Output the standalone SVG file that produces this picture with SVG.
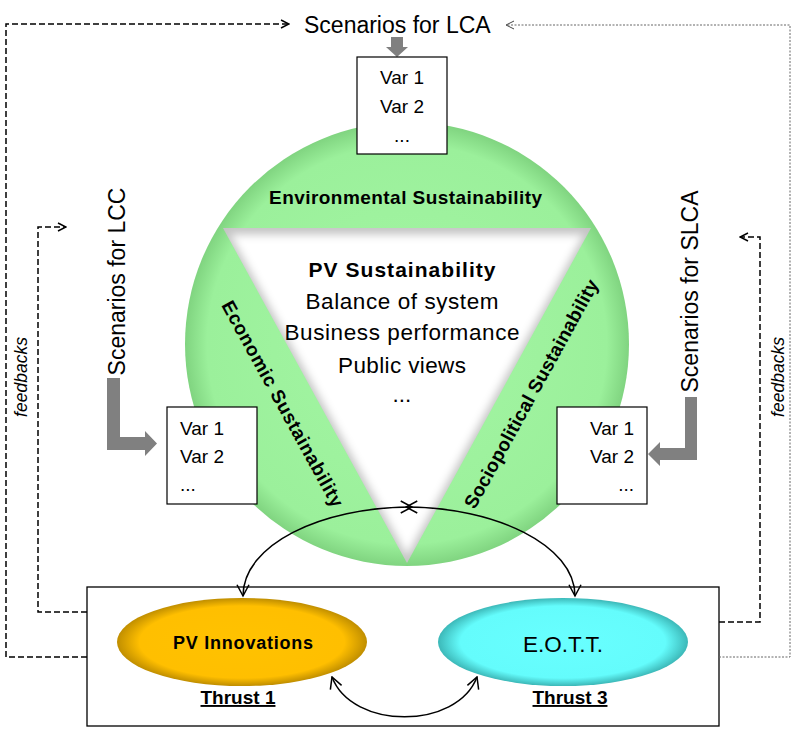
<svg xmlns="http://www.w3.org/2000/svg" width="794" height="729" viewBox="0 0 794 729">
<style>
text{font-family:"Liberation Sans",Arial,sans-serif;fill:#000}
.scen{font-size:23px}
.var{font-size:19px}
.bold{font-weight:bold}
.fb{font-size:17.5px;font-style:italic}
.box{fill:#fff;stroke:#000;stroke-width:1.2}
.gray{fill:#808080}
.dash{fill:none;stroke:#000;stroke-width:1.5;stroke-dasharray:6,3}
.dot{fill:none;stroke:#666;stroke-width:1;stroke-dasharray:2,1.5}
.curve{fill:none;stroke:#000;stroke-width:1.5}
</style>
<defs>
<marker id="chev" viewBox="0 0 10 10" refX="9" refY="5" markerWidth="10" markerHeight="10" markerUnits="userSpaceOnUse" orient="auto-start-reverse">
<path d="M1,1 L9,5 L1,9" fill="none" stroke="#000" stroke-width="1.5"/>
</marker>
<marker id="chevBig" viewBox="0 0 10 10" refX="9" refY="5" markerWidth="15" markerHeight="15" markerUnits="userSpaceOnUse" orient="auto-start-reverse">
<path d="M1.5,1 L9,5 L1.5,9" fill="none" stroke="#000" stroke-width="1"/>
</marker>
<marker id="chevThin" viewBox="0 0 10 10" refX="9" refY="5" markerWidth="10" markerHeight="10" markerUnits="userSpaceOnUse" orient="auto-start-reverse">
<path d="M1,1 L9,5 L1,9" fill="none" stroke="#444" stroke-width="1"/>
</marker>
<radialGradient id="green" cx="0.5" cy="0.5" r="0.5">
<stop offset="0" stop-color="#a4f6a4"/>
<stop offset="0.9" stop-color="#9bf09b"/>
<stop offset="1" stop-color="#80d480"/>
</radialGradient>
<radialGradient id="gold" cx="0.5" cy="0.5" r="0.5">
<stop offset="0" stop-color="#ffc200"/>
<stop offset="0.82" stop-color="#ffbf00"/>
<stop offset="1" stop-color="#c08e00"/>
</radialGradient>
<radialGradient id="cyan" cx="0.5" cy="0.5" r="0.5">
<stop offset="0" stop-color="#68ffff"/>
<stop offset="0.82" stop-color="#64fcfc"/>
<stop offset="1" stop-color="#3cb8b8"/>
</radialGradient>
<clipPath id="triClip"><polygon points="223,228 591,228 407,563"/></clipPath>
<filter id="soft" x="-20%" y="-20%" width="140%" height="140%"><feGaussianBlur stdDeviation="4"/></filter>
</defs>

<g id="sustainability-circle">
<circle cx="407" cy="344" r="222" fill="url(#green)"/>
<polygon points="223,228 591,228 407,563" fill="#c4c4c4"/>
<g clip-path="url(#triClip)">
<polygon points="230,234.5 584,234.5 407,556" fill="#fff" filter="url(#soft)"/>
</g>
<text class="bold" x="405.5" y="204" font-size="19" text-anchor="middle" textLength="273">Environmental Sustainability</text>
<text class="bold" font-size="19" text-anchor="middle" textLength="232" transform="translate(277,407) rotate(61.2)">Economic Sustainability</text>
<text class="bold" font-size="19" text-anchor="middle" textLength="258" transform="translate(537,397) rotate(-61.2)">Sociopolitical Sustainability</text>
</g>

<g id="pv-sustainability">
<text class="bold" x="402" y="277" font-size="21" text-anchor="middle" textLength="187">PV Sustainability</text>
<text x="402" y="309" font-size="22.5" text-anchor="middle" textLength="193">Balance of system</text>
<text x="402" y="340" font-size="22.5" text-anchor="middle" textLength="235">Business performance</text>
<text x="402" y="373" font-size="22.5" text-anchor="middle" textLength="128">Public views</text>
<text x="402" y="402" font-size="22.5" text-anchor="middle">...</text>
</g>

<g id="scenarios-lca">
<text class="scen" x="304" y="33">Scenarios for LCA</text>
<polygon class="gray" points="391,37 403,37 403,47 408,47 397,57 386,47 391,47"/>
<rect class="box" x="357" y="57" width="90" height="97"/>
<text class="var" x="402" y="84" text-anchor="middle">Var 1</text>
<text class="var" x="402" y="113" text-anchor="middle">Var 2</text>
<text class="var" x="402" y="142" text-anchor="middle">...</text>
</g>

<g id="scenarios-lcc">
<text class="scen" text-anchor="middle" transform="translate(125,281.5) rotate(-90)">Scenarios for LCC</text>
<polygon class="gray" points="107,378 120,378 120,437 145,437 145,431 157,443.5 145,456 145,450 107,450"/>
<rect class="box" x="167" y="407" width="90" height="97"/>
<text class="var" x="180" y="435">Var 1</text>
<text class="var" x="180" y="463">Var 2</text>
<text class="var" x="180" y="491">...</text>
</g>

<g id="scenarios-slca">
<text class="scen" text-anchor="middle" transform="translate(698,291.5) rotate(-90)">Scenarios for SLCA</text>
<polygon class="gray" points="685,397 697,397 697,460 660,460 660,466 648,454 660,442 660,448 685,448"/>
<rect class="box" x="557" y="407" width="90" height="97"/>
<text class="var" x="634" y="435" text-anchor="end">Var 1</text>
<text class="var" x="634" y="463" text-anchor="end">Var 2</text>
<text class="var" x="634" y="491" text-anchor="end">...</text>
</g>

<g id="thrust-box">
<rect x="87" y="587" width="632" height="139" fill="#fff" stroke="#000" stroke-width="1.3"/>
</g>

<g id="pv-innovations">
<ellipse cx="242" cy="642" rx="125" ry="44" fill="url(#gold)"/>
<text class="bold" x="243" y="649" font-size="18" text-anchor="middle" textLength="140">PV Innovations</text>
<text class="bold" x="238" y="704" font-size="19" text-anchor="middle" text-decoration="underline">Thrust 1</text>
</g>

<g id="eott">
<ellipse cx="563" cy="642" rx="125" ry="44" fill="url(#cyan)"/>
<text x="563" y="652" font-size="22.5" text-anchor="middle">E.O.T.T.</text>
<text class="bold" x="570" y="704" font-size="19" text-anchor="middle" text-decoration="underline">Thrust 3</text>
</g>

<g id="feedback-labels">
<text class="fb" text-anchor="middle" transform="translate(27,377) rotate(-90)">feedbacks</text>
<text class="fb" text-anchor="middle" transform="translate(784,377) rotate(-90)">feedbacks</text>
</g>

<g id="connectors">
<path class="dash" d="M87,657 H6 V24 H289" marker-end="url(#chev)"/>
<path class="dash" d="M87,612 H38 V227 H66" marker-end="url(#chev)"/>
<path class="dot" d="M719,657 H790 V25 H506" marker-end="url(#chevThin)"/>
<path class="dash" d="M719,622 H760 V237 H740" marker-end="url(#chev)"/>
<path class="curve" d="M243,596 C243,545 320,507 412,507" marker-start="url(#chevBig)" marker-end="url(#chevBig)"/>
<path class="curve" d="M575,596 C575,545 495,507 406,507" marker-start="url(#chevBig)" marker-end="url(#chevBig)"/>
<path class="curve" d="M332,677 C352,730 457,730 477,677" marker-start="url(#chevBig)" marker-end="url(#chevBig)"/>
</g>
</svg>
